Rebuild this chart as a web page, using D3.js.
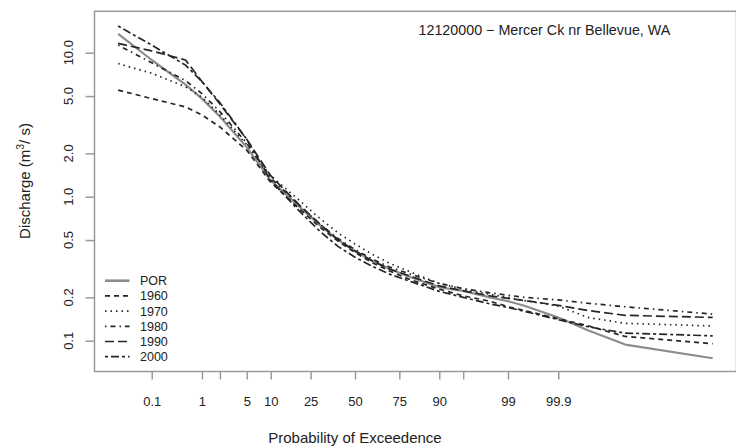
<!DOCTYPE html>
<html>
<head>
<meta charset="utf-8">
<script src="https://cdn.jsdelivr.net/npm/d3@7"></script>
<style>
  body { margin: 0; background: #fff; }
  svg { display: block; }
  text { font-family: "Liberation Sans", Arial, Helvetica, sans-serif; fill: #222; }
</style>
</head>
<body>
<svg id="chart" width="736" height="448"></svg>
<script>
// Flow-duration quantiles, Mercer Creek near Bellevue, WA (USGS 12120000)
// Exceedance probability (percent) of each quantile
const exceedancePct = [0.0159, 0.1, 0.5, 1, 2, 5, 10, 20, 30, 40, 50, 60, 70, 80, 90,
                       95, 98, 99, 99.5, 99.9, 99.98, 99.998, 99.9999973];

// Discharge (m3/s) at each exceedance probability
const flowPOR  = [13.5, 8.9, 6.0, 4.8, 3.6, 2.2, 1.3, 0.85, 0.63, 0.5, 0.42, 0.36, 0.315, 0.277, 0.235,
                  0.222, 0.2, 0.188, 0.175, 0.145, 0.118, 0.094, 0.0755];
const flow1960 = [5.5, 4.8, 4.2, 3.7, 3.05, 2.1, 1.26, 0.82, 0.61, 0.49, 0.41, 0.35, 0.305, 0.265, 0.228,
                  0.205, 0.188, 0.172, 0.162, 0.142, 0.127, 0.107, 0.0953];
const flow1970 = [8.4, 7.2, 5.8, 4.9, 3.7, 2.3, 1.4, 0.94, 0.7, 0.56, 0.47, 0.4, 0.345, 0.3, 0.25,
                  0.228, 0.21, 0.2, 0.19, 0.174, 0.145, 0.132, 0.1265];
const flow1980 = [11.3, 8.5, 6.4, 5.2, 3.9, 2.35, 1.35, 0.87, 0.64, 0.51, 0.43, 0.37, 0.325, 0.29, 0.25,
                  0.23, 0.215, 0.207, 0.2, 0.192, 0.182, 0.172, 0.153];
const flow1990 = [11.6, 10.3, 8.9, 6.3, 4.4, 2.5, 1.4, 0.87, 0.64, 0.5, 0.42, 0.36, 0.315, 0.28, 0.24,
                  0.222, 0.205, 0.197, 0.19, 0.176, 0.162, 0.150, 0.145];
const flow2000 = [15.3, 11.3, 8.2, 6.3, 4.5, 2.5, 1.3, 0.79, 0.57, 0.45, 0.38, 0.33, 0.29, 0.258, 0.22,
                  0.2, 0.18, 0.17, 0.16, 0.14, 0.125, 0.113, 0.108];

const seriesNames = ["POR", "1960", "1970", "1980", "1990", "2000"];
const seriesFlows = [flowPOR, flow1960, flow1970, flow1980, flow1990, flow2000];

const xTickPct    = [0.1, 1, 2, 5, 10, 25, 50, 75, 90, 95, 99, 99.9];
const xTickLabels = ["0.1", "1", "", "5", "10", "25", "50", "75", "90", "", "99", "99.9"];
const yTickValues = [0.1, 0.2, 0.5, 1, 2, 5, 10];
const yTickLabels = ["0.1", "0.2", "0.5", "1.0", "2.0", "5.0", "10.0"];

const stationTitle = "12120000 \u2212 Mercer Ck nr Bellevue, WA";

// Line styles per series (R lty 1..6 look-alikes)
const lineStyles = [
  { stroke: "#8c8c8c", width: 2.2, dash: null },
  { stroke: "#262626", width: 1.7, dash: "5,4" },
  { stroke: "#262626", width: 1.7, dash: "1.5,4" },
  { stroke: "#262626", width: 1.7, dash: "1.5,4,5,4" },
  { stroke: "#262626", width: 1.7, dash: "9,4" },
  { stroke: "#262626", width: 1.7, dash: "3,3,8,3" }
];

// Inverse standard normal CDF (Acklam's rational approximation)
function qnorm(p) {
  const a = [-3.969683028665376e+01, 2.209460984245205e+02, -2.759285104469687e+02,
              1.383577518672690e+02, -3.066479806614716e+01, 2.506628277459239e+00];
  const b = [-5.447609879822406e+01, 1.615858368580409e+02, -1.556989798598866e+02,
              6.680131188771972e+01, -1.328068155288572e+01];
  const c = [-7.784894002430293e-03, -3.223964580411365e-01, -2.400758277161838e+00,
             -2.549732539343734e+00, 4.374664141464968e+00, 2.938163982698783e+00];
  const d = [7.784695709041462e-03, 3.224671290700398e-01, 2.445134137142996e+00,
             3.754408661907416e+00];
  const pl = 0.02425, ph = 1 - pl;
  if (p < pl) {
    const q = Math.sqrt(-2 * Math.log(p));
    return (((((c[0]*q+c[1])*q+c[2])*q+c[3])*q+c[4])*q+c[5]) / ((((d[0]*q+d[1])*q+d[2])*q+d[3])*q+1);
  }
  if (p <= ph) {
    const q = p - 0.5, r = q * q;
    return (((((a[0]*r+a[1])*r+a[2])*r+a[3])*r+a[4])*r+a[5])*q / (((((b[0]*r+b[1])*r+b[2])*r+b[3])*r+b[4])*r+1);
  }
  const q = Math.sqrt(-2 * Math.log(1 - p));
  return -(((((c[0]*q+c[1])*q+c[2])*q+c[3])*q+c[4])*q+c[5]) / ((((d[0]*q+d[1])*q+d[2])*q+d[3])*q+1);
}

const svg = d3.select("#chart");
const plot = { left: 94.5, right: 736.5, top: 11.3, bottom: 371.5 };

// Probability axis: linear in standard normal deviate
const x = d3.scaleLinear().domain([-3.96, 5.80]).range([plot.left, plot.right]);
const xPct = pct => x(qnorm(pct / 100));
const y = d3.scaleLog().domain([0.0611, 19.39]).range([plot.bottom, plot.top]);

// Curves
const line = d3.line()
  .x(d => xPct(d.p))
  .y(d => y(d.q));

seriesFlows.forEach((flows, i) => {
  const pts = flows.map((q, k) => ({ p: exceedancePct[k], q }));
  const st = lineStyles[i];
  svg.append("path")
    .datum(pts)
    .attr("d", line)
    .attr("fill", "none")
    .attr("stroke", st.stroke)
    .attr("stroke-width", st.width)
    .attr("stroke-dasharray", st.dash)
    .attr("stroke-linejoin", "round");
});

// Frame
svg.append("rect")
  .attr("x", plot.left).attr("y", plot.top)
  .attr("width", plot.right - plot.left).attr("height", plot.bottom - plot.top)
  .attr("fill", "none").attr("stroke", "#9a9a9a").attr("stroke-width", 1.5);

// Bottom axis
const xAxis = d3.axisBottom(x)
  .tickValues(xTickPct.map(p => qnorm(p / 100)))
  .tickFormat((d, i) => xTickLabels[i])
  .tickSize(8)
  .tickPadding(17);
const gx = svg.append("g").attr("transform", `translate(0,${plot.bottom})`).call(xAxis);
gx.select(".domain").remove();
gx.selectAll(".tick line").attr("stroke", "#9a9a9a").attr("stroke-width", 1.5);
gx.selectAll(".tick text").attr("font-size", 13).attr("fill", "#222")
  .style("font-family", "'Liberation Sans', Arial, sans-serif");

// Left axis (labels rotated as in base R graphics)
const yAxis = d3.axisLeft(y)
  .tickValues(yTickValues)
  .tickFormat("")
  .tickSize(9);
const gy = svg.append("g").attr("transform", `translate(${plot.left},0)`).call(yAxis);
gy.select(".domain").remove();
gy.selectAll(".tick line").attr("stroke", "#9a9a9a").attr("stroke-width", 1.5);

svg.append("g").selectAll("text")
  .data(yTickValues)
  .join("text")
  .attr("transform", d => `translate(73.3,${y(d)}) rotate(-90)`)
  .attr("text-anchor", "middle")
  .attr("font-size", 13)
  .text((d, i) => yTickLabels[i]);

// Axis titles
svg.append("text")
  .attr("x", x(0)).attr("y", 443)
  .attr("text-anchor", "middle")
  .attr("font-size", 15)
  .text("Probability of Exceedence");

const yTitle = svg.append("text")
  .attr("transform", "translate(29.5,181) rotate(-90)")
  .attr("text-anchor", "middle")
  .attr("font-size", 15);
yTitle.append("tspan").text("Discharge (m");
yTitle.append("tspan").attr("font-size", 10.5).attr("dy", "-6").text("3");
yTitle.append("tspan").attr("dy", "6").text("/ s)");

// Station title
svg.append("text")
  .attr("x", 418.5).attr("y", 34.5)
  .attr("font-size", 14.3)
  .text(stationTitle);

// Legend
const legend = svg.append("g");
seriesNames.forEach((name, i) => {
  const yy = 280.7 + i * 15.2;
  const st = lineStyles[i];
  legend.append("line")
    .attr("x1", 105).attr("x2", 129.5).attr("y1", yy).attr("y2", yy)
    .attr("stroke", st.stroke)
    .attr("stroke-width", i === 0 ? 2.6 : st.width)
    .attr("stroke-dasharray", st.dash);
  legend.append("text")
    .attr("x", 140).attr("y", yy + 4.5)
    .attr("font-size", 12.5)
    .text(name);
});
</script>
</body>
</html>
